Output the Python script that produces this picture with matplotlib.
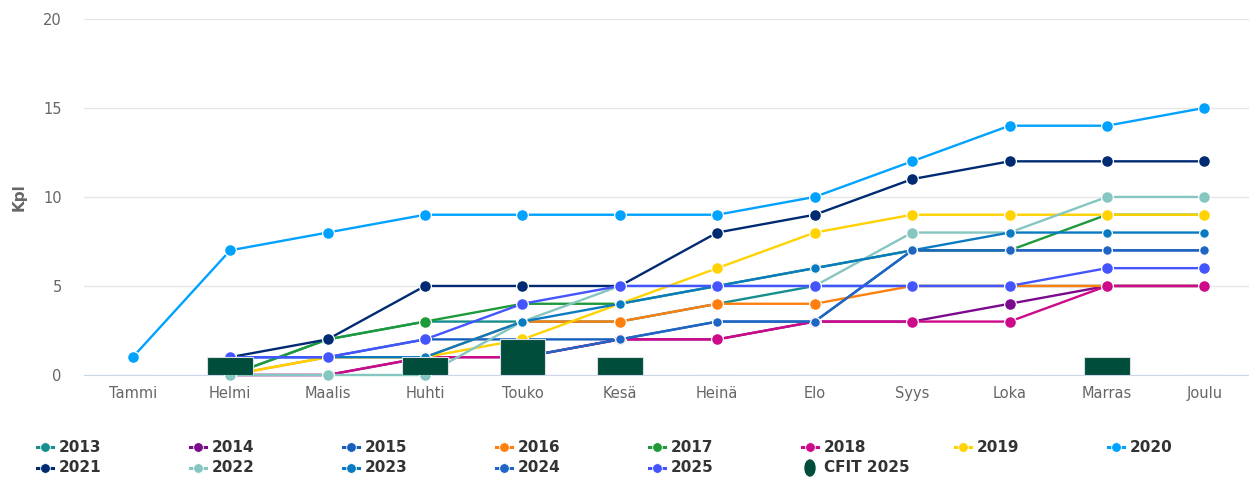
import matplotlib
matplotlib.use("Agg")
import matplotlib.pyplot as plt
from matplotlib.lines import Line2D
from matplotlib.patches import Ellipse
import numpy as np

# months
months = ["Tammi", "Helmi", "Maalis", "Huhti", "Touko", "Kesä",
          "Heinä", "Elo", "Syys", "Loka", "Marras", "Joulu"]

N = None
y2013 = [N, 0, 2, 3, 3, 3, 4, 5, 5, 5, 5, 5]
y2014 = [N, 0, 0, 1, 1, 2, 2, 3, 3, 4, 5, 5]
y2015 = [N, 1, 1, 2, 2, 2, 3, 3, 7, 7, 7, 7]
y2016 = [N, 0, 1, 1, 3, 3, 4, 4, 5, 5, 5, 5]
y2017 = [N, 0, 2, 3, 4, 4, 5, 6, 7, 7, 9, 9]
y2018 = [N, 0, 0, 1, 1, 2, 2, 3, 3, 3, 5, 5]
y2019 = [N, 0, 1, 1, 2, 4, 6, 8, 9, 9, 9, 9]
y2020 = [1, 7, 8, 9, 9, 9, 9, 10, 12, 14, 14, 15]
y2021 = [N, 1, 2, 5, 5, 5, 8, 9, 11, 12, 12, 12]
y2022 = [N, 0, 0, 0, 3, 5, 5, 5, 8, 8, 10, 10]
y2023 = [N, 1, 1, 1, 3, 4, 5, 6, 7, 8, 8, 8]
y2024 = [N, N, N, N, 1, 2, 3, 3, 7, 7, 7, 7]
y2025 = [N, 1, 1, 2, 4, 5, 5, 5, 5, 5, 6, 6]
cfit2025 = [0, 1, 0, 1, 2, 1, 0, 0, 0, 0, 1, 0]

series = [
    ("2013", y2013, "#168e8e"),
    ("2014", y2014, "#7b0a8c"),
    ("2015", y2015, "#1560bd"),
    ("2016", y2016, "#ff7f0e"),
    ("2017", y2017, "#1f9a3a"),
    ("2018", y2018, "#cc0a8a"),
    ("2019", y2019, "#ffd200"),
    ("2020", y2020, "#00a2ff"),
    ("2021", y2021, "#002b72"),
    ("2022", y2022, "#85c6c1"),
    ("2023", y2023, "#0a7bc2"),
    ("2024", y2024, "#1f66c4"),
    ("2025", y2025, "#4455ff"),
]
cfit_color = "#004d3b"
# the small-dot series in the original
small = {"2015", "2023", "2024"}

fig = plt.figure(figsize=(12.49, 4.78), dpi=100)
ax = fig.add_axes([0.0673, 0.2155, 0.936, 0.745])

x = np.arange(len(months))
for i, (name, vals, col) in enumerate(series):
    v = np.array([np.nan if a is None else a for a in vals], dtype=float)
    ms = 7 if name in small else 8.5
    ax.plot(x, v, color=col, lw=1.7, marker="o", ms=ms,
            mec="white", mew=0.9, zorder=3 + i * 0.1, clip_on=False)

ax.bar(x, cfit2025, width=0.47, color=cfit_color, edgecolor="#d8dde6",
       linewidth=0.8, zorder=5)

ax.set_xlim(-0.5, 11.5)
ax.set_ylim(0, 20)
ax.set_yticks([0, 5, 10, 15, 20])
ax.set_xticks(x)
ax.set_xticklabels(months)
ax.tick_params(axis="both", length=0, colors="#666666", labelsize=10.5)
ax.tick_params(axis="x", pad=8)
ax.tick_params(axis="y", pad=16)
ax.grid(axis="y", color="#e6e6e6", lw=1)
ax.set_axisbelow(True)
for s in ["top", "right", "left"]:
    ax.spines[s].set_visible(False)
ax.spines["bottom"].set_color("#ccd6eb")
ax.set_ylabel("Kpl", color="#666666", fontsize=11, fontweight="bold", labelpad=12)

# legend, laid out like the original grid
col_x = [37, 190, 343, 496, 649, 802, 955, 1108]
row_y = [447, 468]
W, H = 1249.0, 478.0
entries = [(n, c) for n, _, c in series] + [("CFIT 2025", cfit_color)]
for k, (name, col) in enumerate(entries):
    r, c = divmod(k, 8)
    px, py = col_x[c], row_y[r]
    fx, fy = px / W, 1 - py / H
    if name.startswith("CFIT"):
        fig.patches.append(Ellipse((fx + 8 / W, fy), 10 / W, 16 / H,
                                   transform=fig.transFigure, color=col))
    else:
        fig.add_artist(Line2D([fx, fx + 16 / W], [fy, fy], color=col, lw=2.2,
                              transform=fig.transFigure))
        fig.add_artist(Line2D([fx + 8 / W], [fy], color=col, marker="o",
                              ms=7, mec="white", mew=0.6, ls="none",
                              transform=fig.transFigure))
    fig.text(fx + 22 / W, fy, name, fontsize=11, fontweight="bold",
             color="#333333", va="center", ha="left")

fig.savefig("out.png", dpi=100)
